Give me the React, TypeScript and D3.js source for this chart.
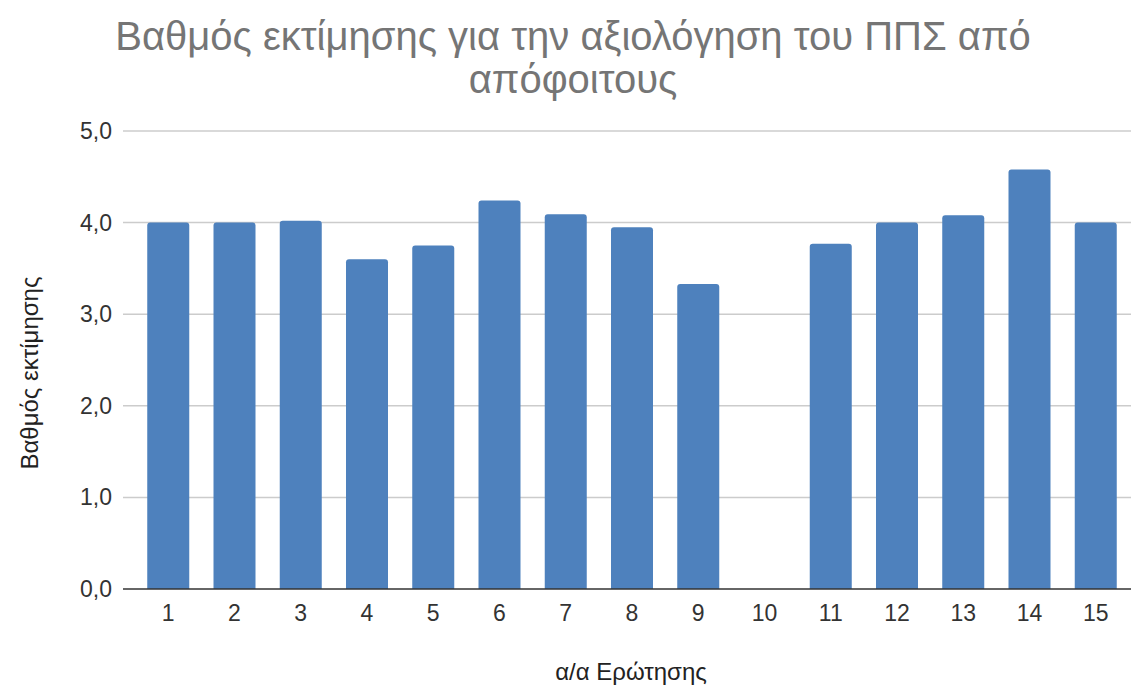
import React from "react";
import * as d3 from "d3";

const categories = ["1","2","3","4","5","6","7","8","9","10","11","12","13","14","15"];
const values = [4.0, 4.0, 4.02, 3.6, 3.75, 4.24, 4.09, 3.95, 3.33, 0, 3.77, 4.0, 4.08, 4.58, 4.0];
const yTicks = [0, 1, 2, 3, 4, 5];
const titleLines = ["Βαθμός εκτίμησης για την αξιολόγηση του ΠΠΣ από", "απόφοιτους"];
const yTitle = "Βαθμός εκτίμησης";
const xTitle = "α/α Ερώτησης";

const W = 1131, H = 686;
const FONT = "'Liberation Sans', Arial, sans-serif";

function topRoundedRect(x: number, y: number, w: number, h: number, r: number) {
  if (h <= 0) return "";
  const rr = Math.min(r, h, w / 2);
  return `M${x},${y + h}V${y + rr}Q${x},${y} ${x + rr},${y}H${x + w - rr}Q${x + w},${y} ${x + w},${y + rr}V${y + h}Z`;
}

export default function App() {
  const x = d3.scaleBand<string>().domain(categories).range([123, 1141]).paddingInner(0.366).paddingOuter(0.366);
  const y = d3.scaleLinear().domain([0, 5]).range([589, 131]);
  const bw = x.bandwidth();
  return (
    <svg width={W} height={H} style={{ position: "absolute", left: 0, top: 0, background: "#fff" }}>
      <rect x={0} y={0} width={W} height={H} fill="#fff" />
      {titleLines.map((t, i) => (
        <text key={i} x={573} y={50 + i * 43} textAnchor="middle" fontFamily={FONT} fontSize={40} fill="#757575">{t}</text>
      ))}
      {yTicks.map((t) => (
        <g key={t}>
          {t !== 0 && <line x1={123} x2={1131} y1={y(t)} y2={y(t)} stroke="#cccccc" strokeWidth={1.5} />}
          <text x={112} y={y(t) + 8} textAnchor="end" fontFamily={FONT} fontSize={23} fill="#333">{d3.format(".1f")(t).replace(".", ",")}</text>
        </g>
      ))}
      {categories.map((c, i) => (
        <path key={c} d={topRoundedRect(x(c)!, y(values[i]), bw, y(0) - y(values[i]), 3)} fill="#4e81bd" />
      ))}
      <line x1={123} x2={1131} y1={y(0)} y2={y(0)} stroke="#333" strokeWidth={1.5} />
      {categories.map((c) => (
        <text key={c} x={x(c)! + bw / 2} y={621} textAnchor="middle" fontFamily={FONT} fontSize={23} fill="#333">{c}</text>
      ))}
      <text transform={`translate(38,373) rotate(-90)`} textAnchor="middle" fontFamily={FONT} fontSize={24} fill="#222">{yTitle}</text>
      <text x={631} y={680} textAnchor="middle" fontFamily={FONT} fontSize={24} fill="#222">{xTitle}</text>
    </svg>
  );
}
